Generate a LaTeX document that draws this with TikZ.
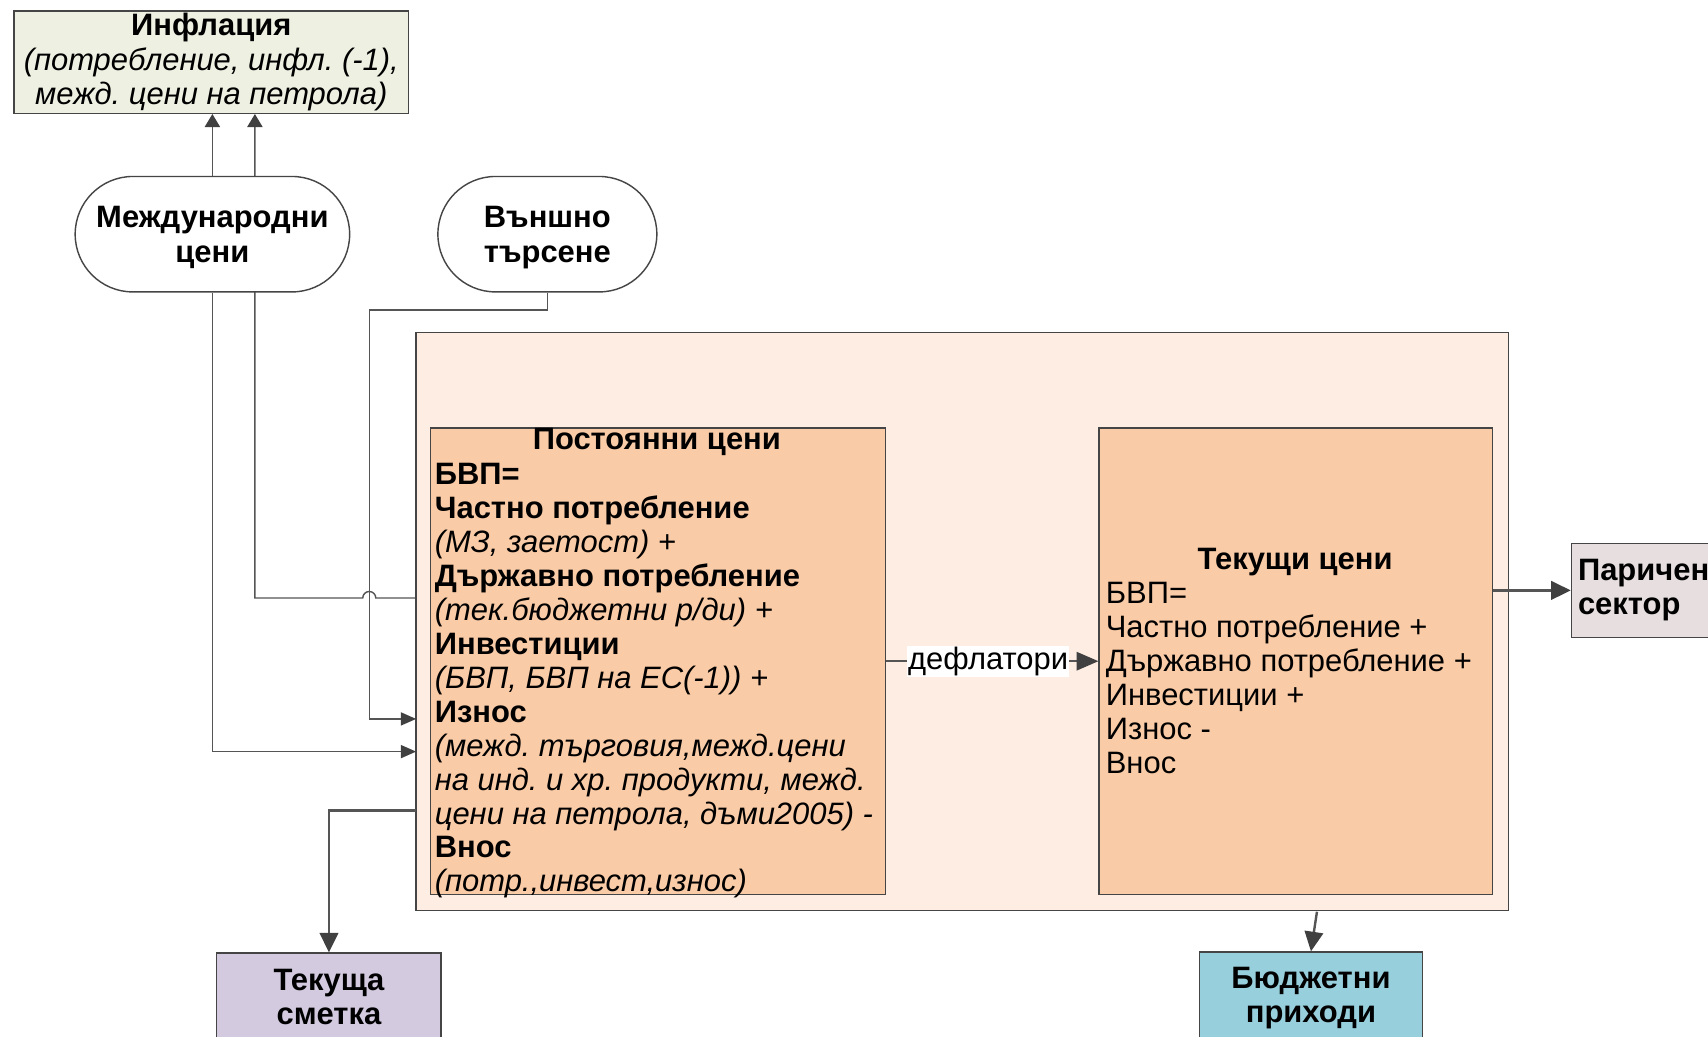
\documentclass[tikz,border=0pt]{standalone}
\usepackage{fontspec}
\setmainfont{Liberation Sans}
\usetikzlibrary{arrows.meta,calc,shapes.misc}
\pgfdeclarelayer{bg}
\pgfsetlayers{bg,main}
\definecolor{inflfill}{HTML}{EEF1E2}
\definecolor{outerfill}{HTML}{FDEDE2}
\definecolor{peach}{HTML}{F9CBA7}
\definecolor{psfill}{HTML}{E7DFDF}
\definecolor{tsfill}{HTML}{D3CAE0}
\definecolor{bpfill}{HTML}{97CFDC}
\definecolor{bordc}{HTML}{454545}
\definecolor{linec}{HTML}{555555}
\definecolor{headc}{HTML}{404040}
\frenchspacing
\begin{document}
\frenchspacing
\begin{tikzpicture}[x=1pt,y=-1pt,
  box/.style={draw=bordc, line width=1.3pt, inner sep=0pt},
  fs/.style={font=\fontsize{28.4}{31.5}\selectfont\frenchspacing},
  fsb/.style={font=\fontsize{28.4}{31.5}\selectfont\bfseries},
  ln/.style={fs, anchor=base west, inner sep=0pt},
  conn/.style={draw=linec, line width=1.3pt},
  arrs/.style={conn, -{Triangle[length=12pt,width=14pt,color=headc]}},
  arrm/.style={conn, -{Triangle[length=14pt,width=12pt,color=headc]}},
  arrb/.style={draw=linec, line width=2.4pt, -{Triangle[length=18pt,width=17pt,color=headc]}},
  stadium/.style={draw=bordc, line width=1.3pt, fill=white, shape=rounded rectangle,
    minimum height=106pt, inner sep=0pt}
]
\useasboundingbox (0,0) rectangle (1568,952);
\begin{pgfonlayer}{bg}
\fill[white] (0,0) rectangle (1568,952);
\end{pgfonlayer}

% top nodes
\node[box, fill=inflfill, minimum width=362pt, minimum height=94pt, align=center, fs] (infl) at (194,57)
  {\bfseries Инфлация\\\itshape (потребление, инфл. (-1),\\\itshape межд. цени на петрола)};
\node[stadium, minimum width=252pt] (mc) at (195,215) {};
\node[fsb, align=center, inner sep=0pt] (mct) at (195,218) {Международни\\цени};
\node[stadium, minimum width=201pt] (vt) at (502.5,215) {};
\node[fsb, align=center, inner sep=0pt] (vtt) at (502.5,218) {Външно\\търсене};

% container
\node[box, fill=outerfill, minimum width=1003pt, minimum height=531pt] (outer) at (883.5,570.5) {};
\node[box, fill=peach, minimum width=418pt, minimum height=428pt] (pc) at (604,607) {};
\node[box, fill=peach, minimum width=361pt, minimum height=428pt] (tc) at (1189.5,607) {};

% constant prices text
\node[fs, inner sep=0pt, anchor=base] (pct) at (603,413) {\bfseries Постоянни цени};
\foreach \t [count=\i] in {{\bfseries БВП=},{\bfseries Частно потребление},{\itshape (МЗ, заетост) +},
  {\bfseries Държавно потребление},{\itshape (тек.бюджетни р/ди) +},{\bfseries Инвестиции},
  {\itshape (БВП, БВП на ЕС(-1)) +},{\bfseries Износ},{\itshape (межд. търговия,межд.цени},
  {\itshape на инд. и хр. продукти, межд.},{\itshape цени на петрола, дъми2005) -},
  {\bfseries Внос},{\itshape (потр.,инвест,износ)}}
  \node[ln] (pcl\i) at (399,{445+31.15*(\i-1)}) {\t};

% current prices text
\node[fs, inner sep=0pt, anchor=base] (tct) at (1189,523) {\bfseries Текущи цени};
\foreach \t [count=\i] in {{БВП=},{Частно потребление +},{Държавно потребление +},
  {Инвестиции +},{Износ -},{Внос}}
  \node[ln] (tcl\i) at (1015,{554+31.15*(\i-1)}) {\t};

% outputs
\node[box, fill=psfill, anchor=west, minimum height=86pt, text width=158pt, inner xsep=6pt,
  align=left, fsb] (ps) at (1442,542) {Паричен\\сектор};
\node[box, fill=tsfill, minimum width=206pt, minimum height=80pt, align=center, fsb]
  (ts) at (302,915) {Текуща\\сметка};
\node[box, fill=bpfill, minimum width=205pt, minimum height=84pt, align=center, fsb]
  (bp) at (1203.5,916) {Бюджетни\\приходи};

% free-end coordinates on the container edge
\coordinate (exA) at (382,660);
\coordinate (exB) at (382,690);
\coordinate (gv) at (382,549);
\coordinate (gk) at (234,549);
\coordinate (cur) at (382,744);
\coordinate (bud) at (1209,837);

% connectors
\draw[arrs] (mc.north) -- (infl.south -| mc.north);
\begin{pgfonlayer}{bg}
\draw[arrs] (gv) -- (345,549) arc[start angle=0,end angle=-180,radius=6] -- (gk) -- (gk |- infl.south);
\end{pgfonlayer}
\draw[arrm] (mc.south) |- (exB);
\draw[arrm] (vt.south) -- ++(0,16) -| (339,620) |- (exA);
\draw[arrb] (cur) -| (ts.north);
\draw[conn, -{Triangle[length=20pt,width=17pt,color=headc]}] (pc.east) --
  node[pos=0.48, fill=white, inner sep=1pt, fs] (defl) {дефлатори} (tc.west);
\draw[arrb, line width=2.2pt] (tc.east |- ps.west) -- (ps.west);
\draw[arrb, line width=2.2pt] (bud) -- (bp.north);
\end{tikzpicture}
\end{document}
